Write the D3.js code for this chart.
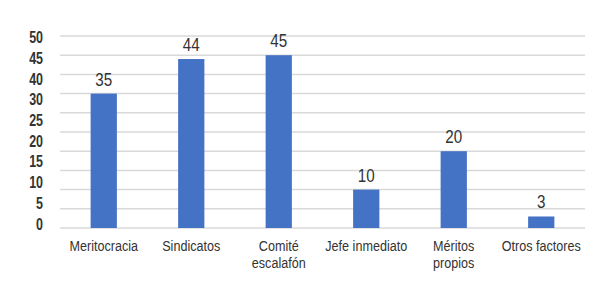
<!DOCTYPE html>
<html>
<head>
<meta charset="utf-8">
<script src="https://cdn.jsdelivr.net/npm/d3@7"></script>
<style>
  body { margin: 0; background: #fff; }
  text { font-family: "Liberation Sans", Arial, sans-serif; fill: #333; }
</style>
</head>
<body>
<div id="chart"></div>
<script>
// data
const categories = [["Meritocracia"], ["Sindicatos"], ["Comité", "escalafón"], ["Jefe inmediato"], ["Méritos", "propios"], ["Otros factores"]];
const values = [35, 44, 45, 10, 20, 3];
// the axis labels as printed (the 35 is missing in the original)
const yTickLabels = ["50", "45", "40", "30", "25", "20", "15", "10", "5", "0"];
const gridValues = [0, 5, 10, 15, 20, 25, 30, 35, 40, 45, 50];

const width = 600,
    height = 287,
    margin = { left: 60, right: 15, top: 36, bottom: 59 };

const chartWidth = width - margin.left - margin.right;
const chartHeight = height - margin.top - margin.bottom;
const narrow = 0.8; // squeeze text horizontally, no narrow font installed

const svg = d3.select("#chart").append("svg")
    .attr("width", width)
    .attr("height", height);

const g = svg.append("g")
    .attr("transform", "translate(" + margin.left + "," + margin.top + ")");

const xScale = d3.scaleBand()
    .domain(d3.range(values.length))
    .range([0, chartWidth])
    .paddingInner(0.7)
    .paddingOuter(0.35);

const yScale = d3.scaleLinear()
    .domain([0, 50])
    .range([chartHeight, 0]);

// gridlines
g.selectAll(".grid")
    .data(gridValues)
    .join("line")
    .attr("class", "grid")
    .attr("x1", 0)
    .attr("x2", chartWidth)
    .attr("y1", d => yScale(d))
    .attr("y2", d => yScale(d))
    .attr("stroke", "#d9d9d9")
    .attr("stroke-width", 1.5);

// y labels, spaced evenly along the axis
const labelScale = d3.scalePoint()
    .domain(yTickLabels)
    .range([1.5, chartHeight - 4]);

g.selectAll(".ylabel")
    .data(yTickLabels)
    .join("text")
    .attr("class", "ylabel")
    .attr("transform", d => "translate(-17," + labelScale(d) + ") scale(0.78,1)")
    .attr("dy", "0.35em")
    .attr("text-anchor", "end")
    .style("font-size", "16px")
    .style("font-weight", "bold")
    .text(d => d);

// bars
g.selectAll(".bar")
    .data(values)
    .join("rect")
    .attr("class", "bar")
    .attr("x", (d, i) => xScale(i))
    .attr("width", xScale.bandwidth())
    .attr("y", d => yScale(d))
    .attr("height", d => chartHeight - yScale(d))
    .attr("fill", "#4472c4");

// value labels
g.selectAll(".value")
    .data(values)
    .join("text")
    .attr("class", "value")
    .attr("transform", (d, i) => "translate(" + (xScale(i) + xScale.bandwidth() / 2) + "," + (yScale(d) - 8) + ") scale(" + narrow + ",1)")
    .attr("text-anchor", "middle")
    .style("font-size", "19px")
    .text(d => d);

// category labels
const xLabels = g.selectAll(".xlabel")
    .data(categories)
    .join("text")
    .attr("class", "xlabel")
    .attr("text-anchor", "middle")
    .attr("transform", (d, i) => "translate(" + (xScale(i) + xScale.bandwidth() / 2) + "," + (chartHeight + 23) + ") scale(0.84,1)")
    .style("font-size", "15px");

xLabels.selectAll("tspan")
    .data(d => d)
    .join("tspan")
    .attr("x", 0)
    .attr("dy", (d, i) => i === 0 ? 0 : 17)
    .text(d => d);
</script>
</body>
</html>
